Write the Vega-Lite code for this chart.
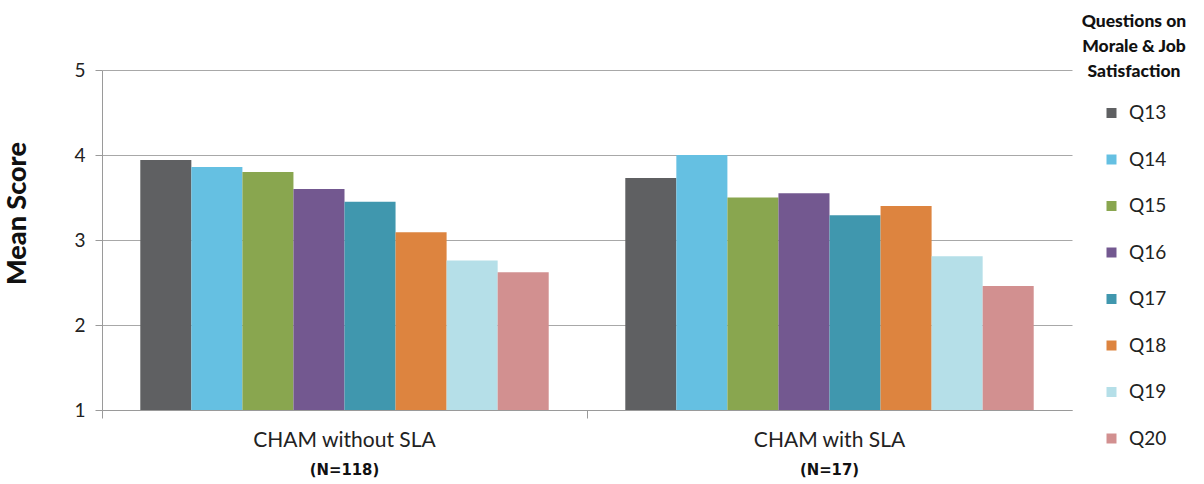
{
  "$schema": "https://vega.github.io/schema/vega-lite/v6.json",
  "width": 970,
  "height": 340,
  "autosize": {"type": "none"},
  "padding": {"left": 102, "top": 70, "right": 132, "bottom": 74},
  "background": "white",
  "config": {
    "view": {"stroke": null},
    "font": "Lato"
  },
  "datasets": {
    "scores": [
      {"group": "CHAM without SLA", "question": "Q13", "score": 3.94},
      {"group": "CHAM without SLA", "question": "Q14", "score": 3.86},
      {"group": "CHAM without SLA", "question": "Q15", "score": 3.80},
      {"group": "CHAM without SLA", "question": "Q16", "score": 3.60},
      {"group": "CHAM without SLA", "question": "Q17", "score": 3.45},
      {"group": "CHAM without SLA", "question": "Q18", "score": 3.09},
      {"group": "CHAM without SLA", "question": "Q19", "score": 2.76},
      {"group": "CHAM without SLA", "question": "Q20", "score": 2.62},
      {"group": "CHAM with SLA", "question": "Q13", "score": 3.73},
      {"group": "CHAM with SLA", "question": "Q14", "score": 4.00},
      {"group": "CHAM with SLA", "question": "Q15", "score": 3.50},
      {"group": "CHAM with SLA", "question": "Q16", "score": 3.55},
      {"group": "CHAM with SLA", "question": "Q17", "score": 3.29},
      {"group": "CHAM with SLA", "question": "Q18", "score": 3.40},
      {"group": "CHAM with SLA", "question": "Q19", "score": 2.81},
      {"group": "CHAM with SLA", "question": "Q20", "score": 2.46}
    ],
    "ns": [
      {"group": "CHAM without SLA", "n": "(N=118)"},
      {"group": "CHAM with SLA", "n": "(N=17)"}
    ]
  },
  "layer": [
    {
      "data": {"name": "scores"},
      "mark": {"type": "bar", "cornerRadius": 0},
      "encoding": {
        "x": {
          "field": "group",
          "type": "nominal",
          "sort": ["CHAM without SLA", "CHAM with SLA"],
          "scale": {"paddingInner": 0, "paddingOuter": 0},
          "axis": {
            "title": null,
            "labelAngle": 0,
            "labelFontSize": 21,
            "labelLimit": 0,
            "labelColor": "#222222",
            "labelPadding": 11,
            "tickSize": 8,
            "tickColor": "#9a9a9a",
            "domainColor": "#9a9a9a",
            "bandPosition": 0,
            "grid": false
          }
        },
        "xOffset": {
          "field": "question",
          "type": "nominal",
          "scale": {"paddingInner": 0, "paddingOuter": 0.75}
        },
        "y": {
          "field": "score",
          "type": "quantitative",
          "scale": {"domain": [1, 5], "nice": false, "zero": false},
          "axis": {
            "title": "Mean Score",
            "titleFontSize": 27,
            "titleFontWeight": 900,
            "titleColor": "#111111",
            "titleX": -85,
            "titleY": 143,
            "titleAngle": -90,
            "titleAlign": "center",
            "titleBaseline": "middle",
            "values": [1, 2, 3, 4, 5],
            "format": "d",
            "labelFontSize": 19,
            "labelColor": "#222222",
            "labelPadding": 10,
            "tickSize": 7,
            "tickColor": "#9a9a9a",
            "domainColor": "#9a9a9a",
            "gridColor": "#a8a8a8",
            "gridWidth": 1.2
          }
        },
        "y2": {"datum": 1},
        "color": {
          "field": "question",
          "type": "nominal",
          "scale": {
            "domain": ["Q13", "Q14", "Q15", "Q16", "Q17", "Q18", "Q19", "Q20"],
            "range": ["#5f6062", "#65c0e2", "#89a64f", "#735890", "#4097ae", "#dd843f", "#b5dfe8", "#d29090"]
          },
          "legend": {
            "title": ["Questions on", "Morale & Job", "Satisfaction"],
            "orient": "none",
            "legendX": 980,
            "legendY": -57,
            "titleFontSize": 17.5,
            "titleFontWeight": 900,
            "titleColor": "#111111",
            "titleAlign": "center",
            "titleAnchor": "middle",
            "titleLineHeight": 25,
            "titlePadding": 23,
            "labelFontSize": 19,
            "labelColor": "#222222",
            "symbolType": "square",
            "symbolSize": 100,
            "symbolStrokeWidth": 0,
            "rowPadding": 26.5,
            "labelOffset": 8
          }
        }
      }
    },
    {
      "data": {"name": "ns"},
      "mark": {"type": "text", "dy": 60, "fontSize": 16.5, "fontWeight": "bold", "font": "DejaVu Sans Condensed, Liberation Sans Narrow, DejaVu Sans", "color": "#111111"},
      "encoding": {
        "x": {"field": "group", "type": "nominal", "sort": ["CHAM without SLA", "CHAM with SLA"]},
        "y": {"datum": 1},
        "text": {"field": "n"}
      }
    }
  ]
}
